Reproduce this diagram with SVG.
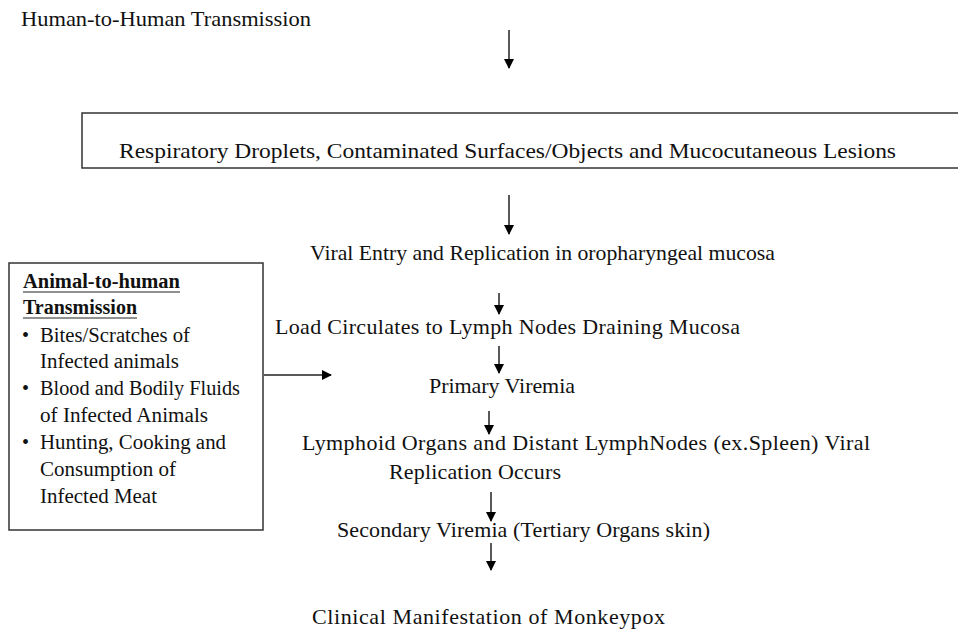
<svg xmlns="http://www.w3.org/2000/svg" width="958" height="633" viewBox="0 0 958 633">
<defs>
<marker id="ah" viewBox="0 0 10 10" refX="9" refY="5" markerWidth="10" markerHeight="10" markerUnits="userSpaceOnUse" orient="auto">
<path d="M0,0 L10,5 L0,10 Z" fill="#000"/>
</marker>
</defs>
<style>
text{font-family:"Liberation Serif","Times New Roman",serif;font-size:22px;fill:#111}
.s{font-size:20px}
.b{font-weight:bold}
.box{fill:#fff;stroke:#333;stroke-width:1.5}
.c{stroke:#222;stroke-width:1.5;fill:none;marker-end:url(#ah)}
</style>
<rect width="958" height="633" fill="#fff"/>
<g id="connectors">
<line class="c" x1="509" y1="30" x2="509" y2="68"/>
<line class="c" x1="509" y1="195" x2="509" y2="234"/>
<line class="c" x1="499" y1="293" x2="499" y2="314"/>
<line class="c" x1="499" y1="346" x2="499" y2="373"/>
<line class="c" x1="489" y1="411" x2="489" y2="434"/>
<line class="c" x1="491" y1="492" x2="491" y2="521"/>
<line class="c" x1="491" y1="543" x2="491" y2="570"/>
<line class="c" x1="264" y1="375" x2="331" y2="375"/>
</g>
<g id="human">
<text x="21" y="26" textLength="290" lengthAdjust="spacingAndGlyphs">Human-to-Human  Transmission</text>
</g>
<g id="routes">
<rect class="box" x="82" y="113" width="890" height="55"/>
<text x="119" y="158" textLength="777" lengthAdjust="spacingAndGlyphs">Respiratory Droplets, Contaminated Surfaces/Objects and Mucocutaneous Lesions</text>
</g>
<g id="entry">
<text x="310" y="260" textLength="465" lengthAdjust="spacingAndGlyphs">Viral Entry and Replication in oropharyngeal mucosa</text>
</g>
<g id="load">
<text x="275" y="334" textLength="465" lengthAdjust="spacing">Load Circulates to Lymph Nodes Draining Mucosa</text>
</g>
<g id="primary">
<text x="429" y="393" textLength="146" lengthAdjust="spacing">Primary Viremia</text>
</g>
<g id="lymphoid">
<text x="302" y="450" textLength="568" lengthAdjust="spacing">Lymphoid Organs and Distant LymphNodes (ex.Spleen) Viral</text>
<text x="389" y="479" textLength="172" lengthAdjust="spacing">Replication Occurs</text>
</g>
<g id="secondary">
<text x="337" y="537" textLength="373" lengthAdjust="spacing">Secondary Viremia (Tertiary Organs skin)</text>
</g>
<g id="clinical">
<text x="312" y="624" textLength="353" lengthAdjust="spacing">Clinical Manifestation of Monkeypox</text>
</g>
<g id="animal">
<rect class="box" x="9" y="263" width="254" height="267"/>
<text class="s b" x="23" y="288" textLength="157" lengthAdjust="spacingAndGlyphs">Animal-to-human</text>
<line x1="23" y1="292" x2="180" y2="292" stroke="#222" stroke-width="1"/>
<text class="s b" x="23" y="314" textLength="114" lengthAdjust="spacingAndGlyphs">Transmission</text>
<line x1="23" y1="318" x2="137" y2="318" stroke="#222" stroke-width="1"/>
<text class="s" x="22" y="342">•</text>
<text class="s" x="40" y="342" textLength="150" lengthAdjust="spacingAndGlyphs">Bites/Scratches of</text>
<text class="s" x="40" y="368" textLength="139" lengthAdjust="spacingAndGlyphs">Infected animals</text>
<text class="s" x="22" y="395">•</text>
<text class="s" x="40" y="395" textLength="200" lengthAdjust="spacingAndGlyphs">Blood and Bodily Fluids</text>
<text class="s" x="40" y="422" textLength="168" lengthAdjust="spacingAndGlyphs">of Infected Animals</text>
<text class="s" x="22" y="449">•</text>
<text class="s" x="40" y="449" textLength="186" lengthAdjust="spacingAndGlyphs">Hunting, Cooking and</text>
<text class="s" x="40" y="476" textLength="136" lengthAdjust="spacingAndGlyphs">Consumption of</text>
<text class="s" x="40" y="503" textLength="117" lengthAdjust="spacingAndGlyphs">Infected Meat</text>
</g>
</svg>
